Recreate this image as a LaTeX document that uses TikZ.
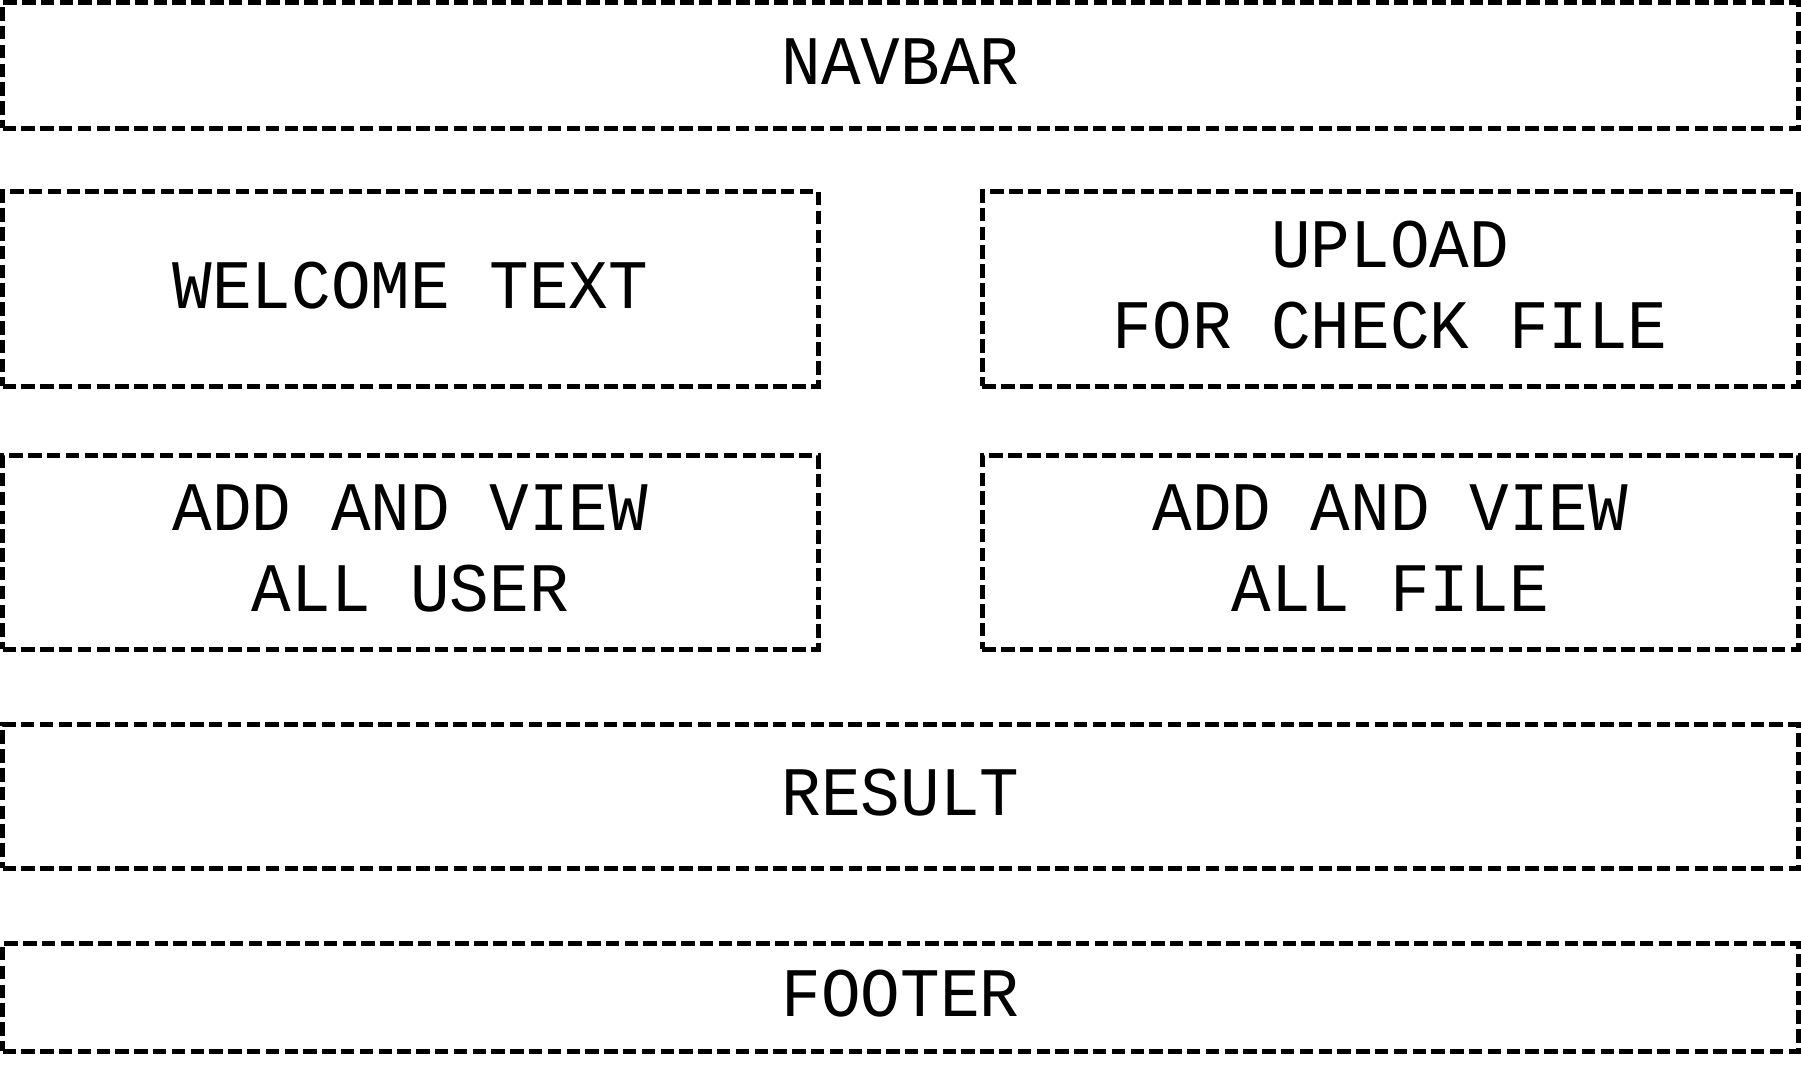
\documentclass[tikz,border=0pt]{standalone}
\usepackage{fontspec}
\setmonofont[FakeStretch=0.95]{Liberation Mono}
\begin{document}
\begin{tikzpicture}[x=1pt,y=-1pt,
  panel/.style={draw=black, line width=5pt, dash pattern=on 13.5pt off 5.3pt,
    inner sep=0pt, outer sep=0pt, align=center, text depth=8pt,
    font=\ttfamily\fontsize{69.5}{81}\selectfont}]
  \useasboundingbox (0,0) rectangle (1801,1077);
  % top bar
  \node[panel, minimum width=1796pt, minimum height=125.8pt] (navbar) at (900.5,65.4) {NAVBAR};
  % two columns of panels
  \node[panel, minimum width=815.8pt, minimum height=194.3pt] (welcome) at (410.4,288.9) {WELCOME TEXT};
  \node[panel, minimum width=816pt, minimum height=194.3pt] (upload) at (1390.2,288.9) {UPLOAD\\FOR CHECK FILE};
  \node[panel, minimum width=815.8pt, minimum height=193.5pt] (adduser) at (410.4,552.4) {ADD AND VIEW\\ALL USER};
  \node[panel, minimum width=816pt, minimum height=193.5pt] (addfile) at (1390.2,552.4) {ADD AND VIEW\\ALL FILE};
  % full-width bottom panels
  \node[panel, minimum width=1796pt, minimum height=143.5pt] (result) at (900.5,796.5) {RESULT};
  \node[panel, minimum width=1796pt, minimum height=108pt] (footer) at (900.5,997.3) {FOOTER};
\end{tikzpicture}
\end{document}
